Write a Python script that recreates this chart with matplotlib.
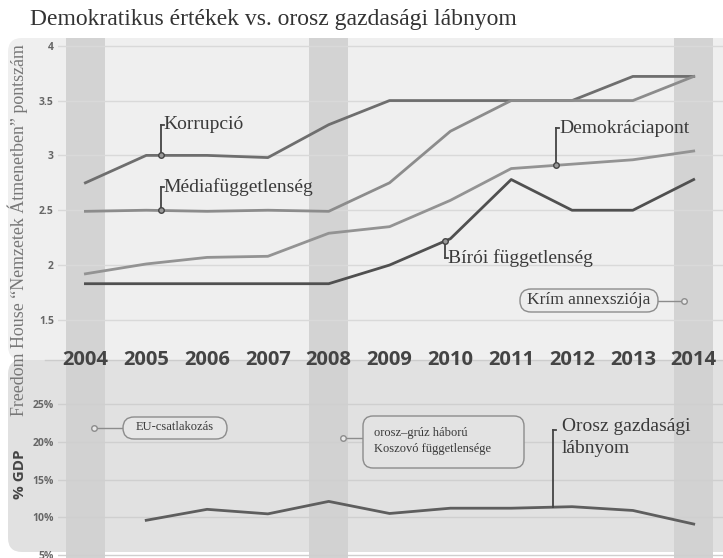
import matplotlib.pyplot as plt
from matplotlib.patches import FancyBboxPatch
from matplotlib.lines import Line2D

# data
years = [2004, 2005, 2006, 2007, 2008, 2009, 2010, 2011, 2012, 2013, 2014]
korrupcio = [2.75, 3.0, 3.0, 2.98, 3.28, 3.5, 3.5, 3.5, 3.5, 3.72, 3.72]
media = [2.49, 2.5, 2.49, 2.5, 2.49, 2.75, 3.22, 3.5, 3.5, 3.5, 3.72]
demokracia = [1.92, 2.01, 2.07, 2.08, 2.29, 2.35, 2.59, 2.88, 2.92, 2.96, 3.04]
biroi = [1.83, 1.83, 1.83, 1.83, 1.83, 2.0, 2.24, 2.78, 2.5, 2.5, 2.78]
gdp_years = [2005, 2006, 2007, 2008, 2009, 2010, 2011, 2012, 2013, 2014]
gdp = [9.6, 11.05, 10.45, 12.1, 10.5, 11.2, 11.2, 11.4, 10.9, 9.1]
event_years = [2004, 2008, 2014]
top_ticks = [1.5, 2, 2.5, 3, 3.5, 4]
bottom_ticks = [5, 10, 15, 20, 25]

W, H = 723, 558
serif = 'Liberation Serif'
sans = 'Open Sans'

fig = plt.figure(figsize=(W / 100, H / 100), dpi=100)

def fx(px):
    return px / W

def fy(py):
    return 1 - py / H

def rbox(x0, y0, x1, y1, r, fc, ec='none', z=-2):
    # rounded rectangle given in pixel coordinates
    fig.patches.append(FancyBboxPatch((fx(x0), fy(y1)), fx(x1) - fx(x0), fy(y0) - fy(y1),
                                      boxstyle=f'round,pad=0,rounding_size={r / W}',
                                      mutation_aspect=W / H, transform=fig.transFigure,
                                      fc=fc, ec=ec, lw=1, zorder=z))

# panel backgrounds
rbox(8, 38, 780, 360, 14, '#efefef')
rbox(8, 360, 780, 552, 14, '#e1e1e1')

x0, x1 = 2004 - 27.4 / 60.83, 2014 + 29.3 / 60.83
ax = fig.add_axes([fx(58), fy(360), fx(723) - fx(58), fy(38) - fy(360)])
ax2 = fig.add_axes([fx(58), fy(558), fx(723) - fx(58), fy(360) - fy(558)])
ax.set_zorder(3)
ax2.set_zorder(2)

for a in (ax, ax2):
    a.set_facecolor('none')
    a.set_xlim(x0, x1)
    for s in a.spines.values():
        s.set_visible(False)
    a.set_xticks([])
    a.tick_params(axis='y', length=0, pad=3, labelsize=7.5, labelcolor='#666666')

ax.set_ylim(1.5 - 40 / 109.4, 4 + 7.7 / 109.4)
ax2.set_ylim(5 - 3 / 7.54, 25 + 44 / 7.54)

ax.set_yticks(top_ticks)
ax.set_yticklabels([f'{t:g}' for t in top_ticks], fontfamily=sans, fontweight='bold')
ax2.set_yticks(bottom_ticks)
ax2.set_yticklabels([f'{t}%' for t in bottom_ticks], fontfamily=sans, fontweight='bold')

for t in top_ticks:
    ax.axhline(t, color='#d9d9d9', lw=1, zorder=1)
for t in bottom_ticks:
    ax2.axhline(t, color='#cfcfcf', lw=1, zorder=1)

for y in event_years:
    ax.axvspan(y - 0.323, y + 0.323, color='#d3d3d3', lw=0, zorder=0.5)
    ax2.axvspan(y - 0.323, y + 0.323, color='#d2d2d2', lw=0, zorder=0.5)

# lines
ax.plot(years, korrupcio, color='#6e6e6e', lw=2, zorder=3)
ax.plot(years, media, color='#8c8c8c', lw=2, zorder=3)
ax.plot(years, demokracia, color='#939393', lw=2, zorder=3)
ax.plot(years, biroi, color='#505050', lw=2, zorder=3)
ax2.plot(gdp_years, gdp, color='#5e5e5e', lw=2, zorder=3)

# leader-line labels
def leader(a, x, y, dy, text, size=14):
    y2 = y + dy
    a.plot([x, x], [y, y2], color='#444444', lw=1.3, zorder=4)
    a.plot([x, x + 0.05], [y2, y2], color='#444444', lw=1.3, zorder=4)
    a.plot([x], [y], marker='o', ms=4, mfc='#999999', mec='#444444', mew=1, zorder=5)
    a.text(x + 0.05, y2, text, fontfamily=serif, fontsize=size,
           color='#3a3a3a', va='center', ha='left', zorder=5)

k_x = 2005.24
leader(ax, k_x, korrupcio[1], 0.28, 'Korrupció')
leader(ax, k_x, media[1], 0.21, 'Médiafüggetlenség')
dem_x = 2011.74
dem_y = demokracia[7] + (demokracia[8] - demokracia[7]) * 0.74
leader(ax, dem_x, dem_y, 0.34, 'Demokráciapont')
bir_x = 2009.91
bir_y = biroi[5] + (biroi[6] - biroi[5]) * 0.91
leader(ax, bir_x, bir_y, -0.15, 'Bírói függetlenség')

gdp_x = 2011.68
gdp_y = gdp[6] + (gdp[7] - gdp[6]) * 0.68
ax2.plot([gdp_x, gdp_x], [gdp_y, 21.5], color='#444444', lw=1.3, zorder=4)
ax2.plot([gdp_x, gdp_x + 0.05], [21.5, 21.5], color='#444444', lw=1.3, zorder=4)
ax2.text(gdp_x + 0.15, 20.6, 'Orosz gazdasági\nlábnyom', fontfamily=serif, fontsize=14,
         color='#3a3a3a', va='center', ha='left', zorder=5, linespacing=1.35)

# boxed event labels (pixel positions)
def event(dot, box, r, fc, text, tpos, size, ha='center', ls=1.2):
    bx0, by0, bx1, by1 = box
    rbox(bx0, by0, bx1, by1, r, fc, ec='#8c8c8c', z=5)
    edge = bx1 if dot[0] > bx1 else bx0
    fig.add_artist(Line2D([fx(dot[0]), fx(edge)], [fy(dot[1]), fy(dot[1])], color='#8c8c8c',
                          lw=1, transform=fig.transFigure, zorder=5))
    fig.add_artist(Line2D([fx(dot[0])], [fy(dot[1])], marker='o', ms=4, mfc='#e8e8e8',
                          mec='#8c8c8c', mew=1, transform=fig.transFigure, zorder=6))
    fig.text(fx(tpos[0]), fy(tpos[1]), text, fontfamily=serif, fontsize=size, color='#3a3a3a',
             ha=ha, va='center', zorder=7, linespacing=ls)

event((684, 301), (520, 289, 658, 312), 11, '#ececec', 'Krím annexsziója', (589, 300), 12.5)
event((94, 428), (123, 417, 227, 439), 11, '#e6e6e6', 'EU-csatlakozás', (175, 427), 9)
event((343, 438), (363, 416, 524, 468), 10, '#e3e3e3', 'orosz–grúz háború\nKoszovó függetlensége',
      (374, 441), 9, ha='left', ls=1.5)

# year labels on the panel boundary
fig.add_artist(Line2D([fx(45), fx(723)], [fy(360), fy(360)], color='#cccccc', lw=1,
                      transform=fig.transFigure, zorder=-1))
for y in years:
    ax.text(y, 1.5 - 40 / 109.4, str(y), fontfamily=sans, fontweight='bold', fontsize=14.5,
            color='#444444', ha='center', va='center', zorder=6, clip_on=False)

# titles and axis labels
fig.text(fx(30), fy(19), 'Demokratikus értékek vs. orosz gazdasági lábnyom', fontfamily=serif,
         fontsize=17, color='#333333', ha='left', va='center')
fig.text(fx(18), fy(230), 'Freedom House “Nemzetek Átmenetben” pontszám', fontfamily=serif,
         fontsize=12.9, color='#777777', rotation=90, ha='center', va='center')
fig.text(fx(20), fy(474), '% GDP', fontfamily=sans, fontweight='bold', fontsize=11,
         color='#444444', rotation=90, ha='center', va='center')

fig.savefig('out.png', dpi=100)
